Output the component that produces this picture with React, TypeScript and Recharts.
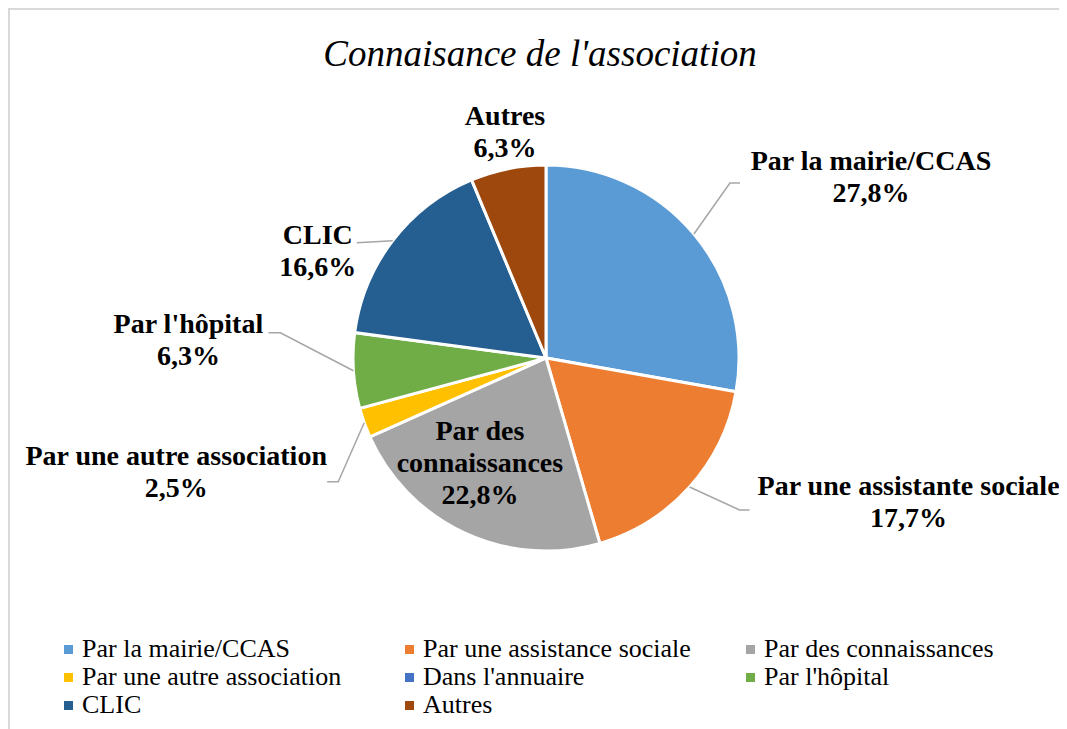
import React from 'react';
import { PieChart, Pie, Cell } from 'recharts';

const categories = [
  'Par la mairie/CCAS',
  'Par une assistance sociale',
  'Par des connaissances',
  'Par une autre association',
  "Dans l'annuaire",
  "Par l'hôpital",
  'CLIC',
  'Autres',
];

// labels printed next to the slices (differ slightly from the legend)
const sliceLabels = [
  ['Par la mairie/CCAS'],
  ['Par une assistante sociale'],
  ['Par des', 'connaissances'],
  ['Par une autre association'],
  ["Dans l'annuaire"],
  ["Par l'hôpital"],
  ['CLIC'],
  ['Autres'],
];

const values = [27.8, 17.7, 22.8, 2.5, 0, 6.3, 16.6, 6.3];

const colors = ['#5B9BD5', '#ED7D31', '#A5A5A5', '#FFC000', '#4472C4', '#70AD47', '#255E91', '#9E480E'];

const data = categories.map((name, i) => ({ name, value: values[i] }));

const SERIF = '"Liberation Serif", "Times New Roman", serif';

// label placement, relative to the point on the rim at the slice's mid angle
const labelLayout: Record<number, { dx: number; dy: number; leader: [number, number][] }> = {
  0: { dx: 177, dy: -64, leader: [[36, -51], [46, -51]] },
  1: { dx: 219, dy: 8, leader: [[50, 23], [60, 23]] },
  2: { dx: 15, dy: -93, leader: [] },
  3: { dx: -188, dy: 42, leader: [[-26, 59], [-37, 59]] },
  5: { dx: -165, dy: -38, leader: [[-73, -38], [-85, -38]] },
  6: { dx: -75, dy: 3, leader: [[-36, 2]] },
  7: { dx: -3, dy: -44, leader: [] },
};

const RAD = Math.PI / 180;
const fmt = (v: number) => v.toFixed(1).replace('.', ',') + '%';

function renderLabel(props: any) {
  const { cx, cy, midAngle, outerRadius, index, value } = props;
  const lay = labelLayout[index];
  if (!lay || !value) return null;
  const ex = cx + outerRadius * Math.cos(-midAngle * RAD);
  const ey = cy + outerRadius * Math.sin(-midAngle * RAD);
  const lines = [...sliceLabels[index], fmt(value)];
  const pts = [[0, 0], ...lay.leader].map(([x, y]) => `${ex + x},${ey + y}`).join(' ');
  return (
    <g key={'lbl' + index}>
      {lay.leader.length > 0 && (
        <polyline points={pts} fill="none" stroke="#A6A6A6" strokeWidth={1.5} />
      )}
      {lines.map((t, k) => (
        <text
          key={k}
          x={ex + lay.dx}
          y={ey + lay.dy + k * 32}
          textAnchor="middle"
          style={{ fontFamily: SERIF, fontWeight: 700, fontSize: 28 }}
          fill="#000"
        >
          {t}
        </text>
      ))}
    </g>
  );
}

export default function App() {
  return (
    <div
      style={{
        position: 'relative',
        width: 1059,
        height: 721,
        boxSizing: 'border-box',
        borderTop: '2px solid #d9d9d9',
        borderLeft: '2px solid #d9d9d9',
        fontFamily: SERIF,
        background: '#fff',
      }}
    >
      <div
        style={{
          position: 'absolute',
          left: 0,
          top: 25,
          width: 1060,
          textAlign: 'center',
          fontSize: 37,
          lineHeight: '37px',
          fontStyle: 'italic',
          color: '#000',
        }}
      >
        Connaisance de l'association
      </div>
      <div style={{ position: 'absolute', left: 0, top: 0 }}>
        <PieChart width={1057} height={719} margin={{ top: 0, right: 0, bottom: 0, left: 0 }}>
          <Pie
            data={data}
            dataKey="value"
            nameKey="name"
            cx={536}
            cy={348}
            outerRadius={193}
            startAngle={90}
            endAngle={-270}
            stroke="#fff"
            strokeWidth={3}
            label={renderLabel}
            labelLine={false}
            isAnimationActive={false}
          >
            {data.map((d, i) => (
              <Cell key={d.name} fill={colors[i]} />
            ))}
          </Pie>
        </PieChart>
      </div>
      {categories.map((name, i) => {
        const col = i % 3;
        const row = Math.floor(i / 3);
        return (
          <div
            key={name}
            style={{
              position: 'absolute',
              left: 54 + col * 341,
              top: 625 + row * 28,
              height: 28,
              display: 'flex',
              alignItems: 'center',
              fontSize: 26,
              lineHeight: '28px',
              color: '#000',
              whiteSpace: 'nowrap',
            }}
          >
            <span style={{ width: 9, height: 9, background: colors[i], display: 'inline-block', marginRight: 9 }} />
            {name}
          </div>
        );
      })}
    </div>
  );
}
